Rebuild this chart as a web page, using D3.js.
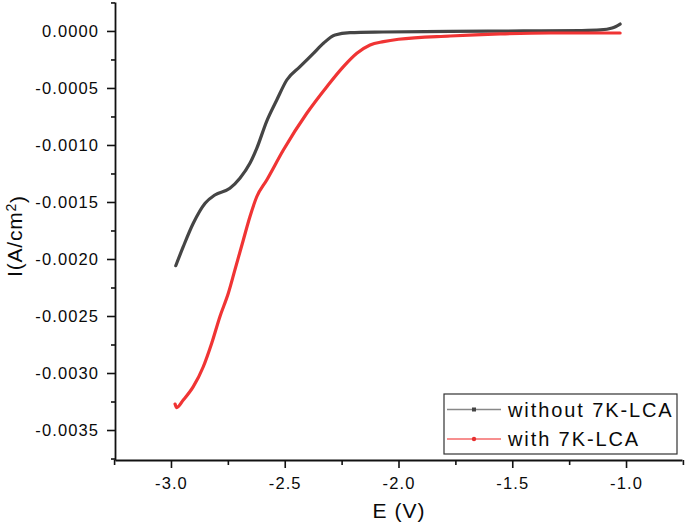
<!DOCTYPE html>
<html>
<head>
<meta charset="utf-8">
<script src="https://cdn.jsdelivr.net/npm/d3@7"></script>
<style>
  body { margin: 0; background: #fff; }
  text { font-family: "Liberation Sans", Arial, sans-serif; fill: #0a0a0a; }
</style>
</head>
<body>
<div id="chart"></div>
<script>
// E (V) and I (A/cm2)
const withoutE = [-2.979, -2.946, -2.902, -2.850, -2.807, -2.741, -2.697, -2.653, -2.623, -2.579,
  -2.535, -2.491, -2.433, -2.374, -2.330, -2.279, -2.213, -2.068, -1.773, -1.450, -1.201, -1.113, -1.061, -1.026];
const withoutI = [-0.002059, -0.001892, -0.001687, -0.001511, -0.001439, -0.001380, -0.001292, -0.001161, -0.001030, -0.000790,
  -0.000605, -0.000430, -0.000313, -0.000196, -0.000108, -0.000035, -0.000015, -0.000009, -0.000004, 0.000000, 0.000004, 0.000009, 0.000026, 0.000061];

const withE = [-2.982, -2.975, -2.946, -2.902, -2.858, -2.821, -2.785, -2.748, -2.719, -2.682, -2.653, -2.623,
  -2.579, -2.506, -2.403, -2.315, -2.242, -2.183, -2.125, -2.066, -2.000, -1.773, -1.553, -1.333, -1.026];
const withI = [-0.003272, -0.003303, -0.003237, -0.003120, -0.002945, -0.002739, -0.002506, -0.002301, -0.002096, -0.001833, -0.001629, -0.001454,
  -0.001307, -0.001044, -0.000722, -0.000489, -0.000313, -0.000196, -0.000123, -0.000094, -0.000073, -0.000044, -0.000026, -0.000018, -0.000018];

const xTicks = [-3.0, -2.5, -2.0, -1.5, -1.0];
const xMinor = [-3.25, -2.75, -2.25, -1.75, -1.25, -0.75];
const yTicks = [0, -0.0005, -0.001, -0.0015, -0.002, -0.0025, -0.003, -0.0035];
const yMinor = [0.00025, -0.00025, -0.00075, -0.00125, -0.00175, -0.00225, -0.00275, -0.00325, -0.00375];

const seriesNames = ["without 7K-LCA", "with 7K-LCA"];
const seriesColors = ["#454545", "#f03434"];

const width = 685, height = 525;
const svg = d3.select("#chart").append("svg")
  .attr("width", width).attr("height", height);

const x = d3.scaleLinear().domain([-3.246, -0.754]).range([115, 682]);
const y = d3.scaleLinear().domain([0.000254, -0.003763]).range([2, 460]);

// axes
const yAxis = svg.append("g").attr("transform", "translate(115,0)")
  .call(d3.axisLeft(y).tickValues(yTicks).tickSize(8).tickSizeOuter(0)
    .tickFormat(d => d3.format(".4f")(d).replace("−", "-")));
svg.append("g").attr("transform", "translate(115,0)")
  .call(d3.axisLeft(y).tickValues(yMinor.filter(v => v > -0.00376)).tickSize(4).tickSizeOuter(0).tickFormat(""))
  .select(".domain").remove();

const xAxis = svg.append("g").attr("transform", "translate(0,460)")
  .call(d3.axisBottom(x).tickValues(xTicks).tickSize(8).tickSizeOuter(0)
    .tickFormat(d => d3.format(".1f")(d).replace("−", "-")));
svg.append("g").attr("transform", "translate(0,460)")
  .call(d3.axisBottom(x).tickValues(xMinor).tickSize(5).tickSizeOuter(0).tickFormat(""))
  .select(".domain").remove();

svg.selectAll(".domain").attr("stroke", "#111").attr("stroke-width", 1.8);
svg.selectAll(".tick line").attr("stroke", "#111").attr("stroke-width", 1.6);

yAxis.selectAll(".tick text")
  .attr("x", -16).attr("dy", "0.36em")
  .style("font-size", "16.5px").style("letter-spacing", "1.1px")
  .style("font-family", "'Liberation Sans', Arial, sans-serif").attr("fill", "#0a0a0a");
xAxis.selectAll(".tick text")
  .attr("y", 17).attr("dy", "0.71em")
  .style("font-size", "16.5px").style("letter-spacing", "1.1px")
  .style("font-family", "'Liberation Sans', Arial, sans-serif").attr("fill", "#0a0a0a");

// axis titles
svg.append("text")
  .attr("x", 399).attr("y", 518)
  .attr("text-anchor", "middle")
  .style("font-size", "21px").style("letter-spacing", "1px")
  .text("E (V)");

const yTitle = svg.append("text")
  .attr("transform", "translate(22,236) rotate(-90)")
  .attr("text-anchor", "middle")
  .style("font-size", "21px").style("letter-spacing", "0.8px");
yTitle.append("tspan").text("I(A/cm");
yTitle.append("tspan").attr("dy", "-0.45em").style("font-size", "14px").text("2");
yTitle.append("tspan").attr("dy", "0.45em").text(")");

// curves
const line = d3.line().x(d => x(d[0])).y(d => y(d[1])).curve(d3.curveMonotoneX);
const series = [d3.zip(withoutE, withoutI), d3.zip(withE, withI)];

series.forEach((pts, i) => {
  svg.append("path")
    .datum(pts)
    .attr("fill", "none")
    .attr("stroke", seriesColors[i])
    .attr("stroke-width", 3.2)
    .attr("stroke-linejoin", "round")
    .attr("stroke-linecap", "round")
    .attr("d", line);
});

// legend
const legend = svg.append("g").attr("transform", "translate(444,394)");
legend.append("rect")
  .attr("x", 0).attr("y", 0).attr("width", 233).attr("height", 60)
  .attr("fill", "#fff").attr("stroke", "#333").attr("stroke-width", 1.2);

seriesNames.forEach((name, i) => {
  const ly = 15.5 + i * 29.5;
  legend.append("line")
    .attr("x1", 3).attr("x2", 57).attr("y1", ly).attr("y2", ly)
    .attr("stroke", i === 0 ? "#888" : "#f46a6a").attr("stroke-width", 1.3);
  if (i === 0) {
    legend.append("rect")
      .attr("x", 28).attr("y", ly - 2).attr("width", 4).attr("height", 4)
      .attr("fill", "#444");
  } else {
    legend.append("circle")
      .attr("cx", 30).attr("cy", ly).attr("r", 2.2)
      .attr("fill", "#e83030");
  }
  legend.append("text")
    .attr("x", 64).attr("y", ly).attr("dy", "0.36em")
    .style("font-size", "20px").style("letter-spacing", "1.9px")
    .text(name);
});
</script>
</body>
</html>
